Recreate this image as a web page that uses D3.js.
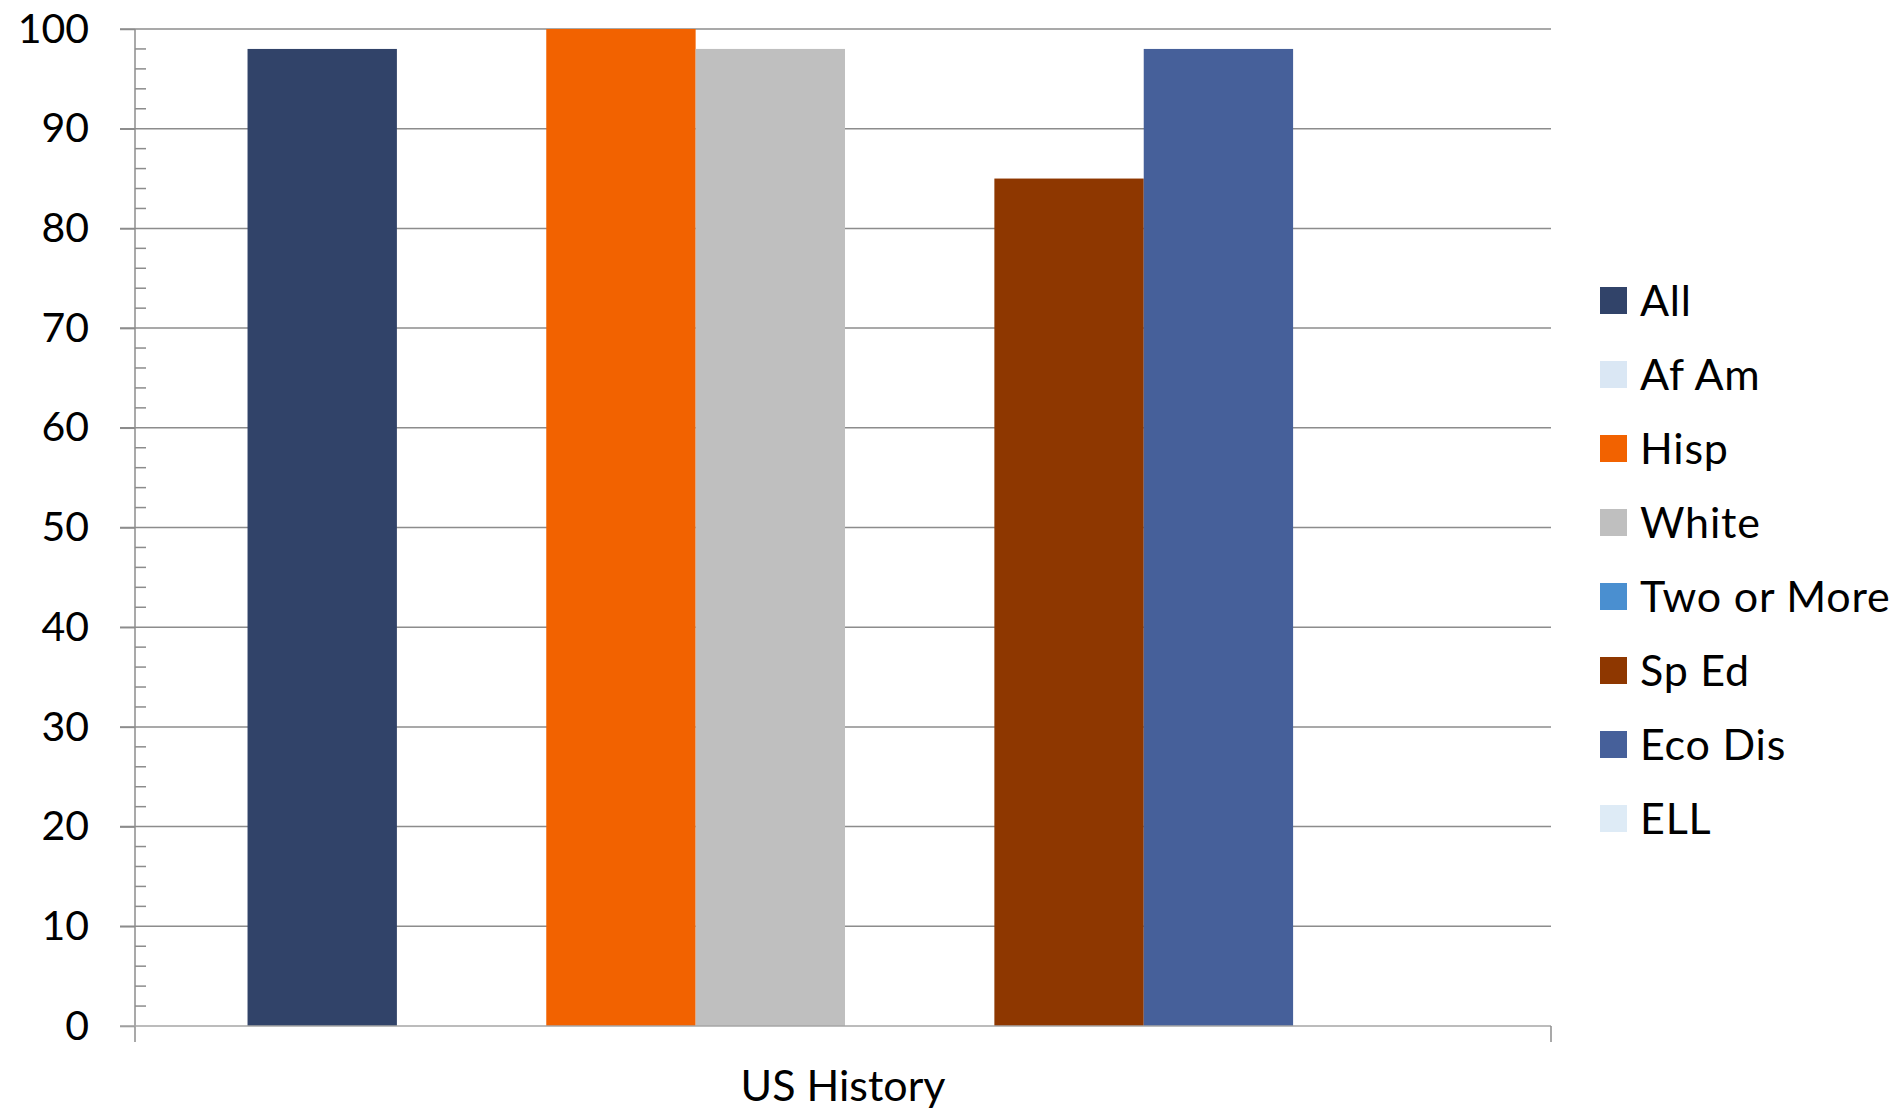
<!DOCTYPE html>
<html>
<head>
<meta charset="utf-8">
<script src="https://cdn.jsdelivr.net/npm/d3@7"></script>
<style>
  html, body { margin: 0; padding: 0; background: #ffffff; }
  svg { display: block; }
  text { font-family: Lato, "Open Sans", sans-serif; fill: #000; }
</style>
</head>
<body>
<svg id="chart" width="1897" height="1110"></svg>
<script>
const categories = ["US History"];
const seriesNames = ["All", "Af Am", "Hisp", "White", "Two or More", "Sp Ed", "Eco Dis", "ELL"];
const seriesColors = ["#314369", "#DAE7F4", "#F26200", "#BFBFBF", "#4A8FD0", "#8E3700", "#46609A", "#DEEBF6"];
// values per series for "US History" (null = no bar)
const valuesAll = [98];
const valuesAfAm = [null];
const valuesHisp = [100];
const valuesWhite = [98];
const valuesTwoOrMore = [null];
const valuesSpEd = [85];
const valuesEcoDis = [98];
const valuesELL = [null];
const yTicks = [0, 10, 20, 30, 40, 50, 60, 70, 80, 90, 100];

const seriesValues = [valuesAll, valuesAfAm, valuesHisp, valuesWhite, valuesTwoOrMore, valuesSpEd, valuesEcoDis, valuesELL];

(function () {
const svg = d3.select("#chart");
const pLeft = 135, pRight = 1551, pTop = 29, pBottom = 1026;
const gridColor = "#8C8C8C";

const y = d3.scaleLinear().domain([0, 100]).range([pBottom, pTop]);
const x0 = d3.scaleBand().domain(categories).range([pLeft + 2, pRight + 2]).paddingInner(0).paddingOuter(0.0925);
const x1 = d3.scaleBand().domain(seriesNames).range([0, x0.bandwidth()]).padding(0);

// gridlines
svg.append("g").selectAll("line").data(yTicks.filter(t => t > 0)).join("line")
  .attr("x1", pLeft - 15).attr("x2", pRight)
  .attr("y1", d => y(d)).attr("y2", d => y(d))
  .attr("stroke", gridColor).attr("stroke-width", 1.5);

// bars
const rows = [];
categories.forEach((c, ci) => {
  seriesNames.forEach((s, si) => {
    const v = seriesValues[si][ci];
    if (v != null) rows.push({ c, s, v, color: seriesColors[si] });
  });
});
svg.append("g").selectAll("rect").data(rows).join("rect")
  .attr("x", d => x0(d.c) + x1(d.s))
  .attr("width", x1.bandwidth())
  .attr("y", d => y(d.v))
  .attr("height", d => y(0) - y(d.v))
  .attr("fill", d => d.color);

// y axis with major labels
const yAxis = d3.axisLeft(y).tickValues(yTicks).tickSize(15).tickPadding(31).tickFormat(d3.format("d"));
const gy = svg.append("g").attr("transform", `translate(${pLeft},0)`).call(yAxis);
gy.select(".domain").remove();
gy.selectAll(".tick line").attr("stroke", gridColor).attr("stroke-width", 1.5);
gy.selectAll(".tick text").attr("font-size", 41).attr("font-family", "Lato, 'Open Sans', sans-serif").attr("fill", "#000");

// minor ticks (inside)
const minor = d3.range(0, 101, 2).filter(v => v % 10 !== 0);
svg.append("g").selectAll("line").data(minor).join("line")
  .attr("x1", pLeft).attr("x2", pLeft + 11)
  .attr("y1", d => y(d)).attr("y2", d => y(d))
  .attr("stroke", gridColor).attr("stroke-width", 1.5);

// axis lines
svg.append("line").attr("x1", pLeft).attr("x2", pLeft).attr("y1", pTop).attr("y2", pBottom + 16)
  .attr("stroke", gridColor).attr("stroke-width", 1.5);
svg.append("line").attr("x1", pLeft - 15).attr("x2", pRight).attr("y1", pBottom).attr("y2", pBottom)
  .attr("stroke", "#A6A6A6").attr("stroke-width", 1.5);
svg.append("line").attr("x1", pRight).attr("x2", pRight).attr("y1", pBottom).attr("y2", pBottom + 16)
  .attr("stroke", gridColor).attr("stroke-width", 1.5);

// category label
svg.append("g").selectAll("text").data(categories).join("text")
  .attr("x", (pLeft + pRight) / 2)
  .attr("y", 1101)
  .attr("text-anchor", "middle")
  .attr("font-size", 43)
  .text(d => d);

// legend
const legend = svg.append("g").attr("transform", "translate(1600,287)");
const li = legend.selectAll("g").data(seriesNames).join("g")
  .attr("transform", (d, i) => `translate(0,${i * 74})`);
li.append("rect").attr("width", 27).attr("height", 27).attr("fill", (d, i) => seriesColors[i]);
li.append("text").attr("x", 40).attr("y", 13.5).attr("dy", "0.36em")
  .attr("font-size", 43).attr("letter-spacing", "0.8px").text(d => d);
})();
</script>
</body>
</html>
